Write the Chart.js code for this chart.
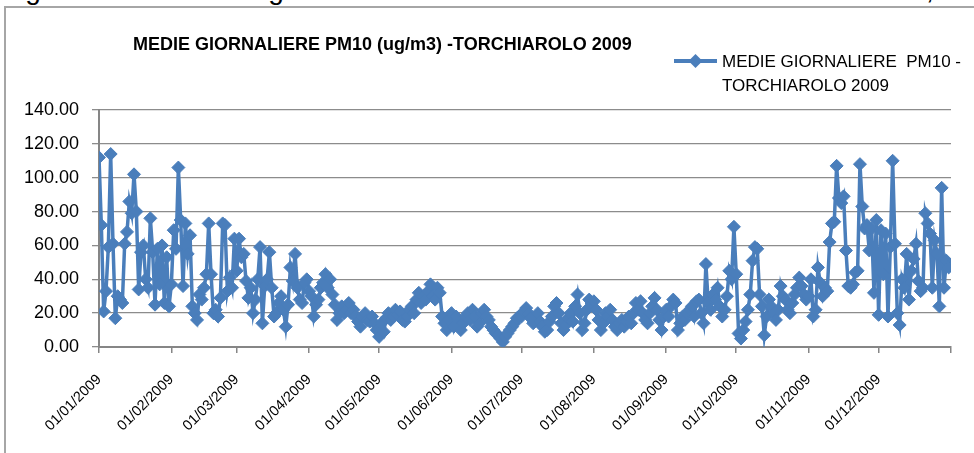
<!DOCTYPE html>
<html>
<head>
<meta charset="utf-8">
<script src="https://cdn.jsdelivr.net/npm/chart.js@4"></script>
<style>
html,body{margin:0;padding:0;background:#fff;}
#wrap{position:relative;width:974px;height:453px;overflow:hidden;background:#fff;}
#cap{position:absolute;left:2px;top:-26px;font:28px "Liberation Sans",Arial,sans-serif;white-space:nowrap;color:#000;}
#frame{position:absolute;left:4px;top:6px;width:1000px;height:600px;border-left:2px solid #a6a6a6;border-top:2px solid #a6a6a6;pointer-events:none;}
#c{position:absolute;left:0;top:0;}
</style>
</head>
<body>
<div id="wrap">
  <div id="cap">Figura 1: andamento giornaliero delle concentrazioni di PM10 - Torchiarolo, anno 2009</div>
  <canvas id="c" width="974" height="453"></canvas>
  <div id="frame"></div>
</div>
<script>
// ---- DATA ----
const chartTitle = 'MEDIE GIORNALIERE PM10 (ug/m3) -TORCHIAROLO 2009';
const seriesLabel = ['MEDIE GIORNALIERE  PM10 -', 'TORCHIAROLO 2009'];
const monthTicks = ['01/01/2009','01/02/2009','01/03/2009','01/04/2009','01/05/2009','01/06/2009','01/07/2009','01/08/2009','01/09/2009','01/10/2009','01/11/2009','01/12/2009'];
const monthStartDays = [0,31,59,90,120,151,181,212,243,273,304,334,365];
const yTicks = [0,20,40,60,80,100,120,140];

const jan = [112,72,21,33,59,114,61,17,30,28,26,61,68,86,79,102,80,34,56,60,40,35,76,56,25,58,37,60,26,53,24];
const feb = [37,69,58,106,75,36,73,55,66,24,20,16,31,28,35,43,73,43,20,22,18,29,73,72,33,41,35,64];
const mar = [45,64,53,55,39,29,35,20,28,40,59,14,36,40,56,35,18,20,26,30,22,12,25,47,39,55,35,28,26,38,40];
const apr = [33,30,18,25,28,35,38,43,35,40,31,25,16,20,24,20,22,26,20,22,18,15,12,18,20,16,15,18,14,10];
const may = [6,14,9,17,20,16,18,22,19,21,16,15,18,22,24,20,28,32,26,30,28,33,37,30,28,35,32,18,14,10,16];
const jun = [20,12,18,16,10,14,18,20,16,22,18,12,14,20,22,18,16,12,10,8,7,5,3,6,8,10,12,14,17,18];
const jul = [18,21,23,20,17,14,16,20,15,12,9,10,15,18,24,26,20,14,10,13,17,20,15,24,31,20,10,14,22,28,26];
const aug = [27,22,16,10,14,20,18,22,16,12,10,14,16,12,15,18,14,20,26,22,27,20,16,14,20,24,29,22,16,10,18];
const sep = [22,18,24,28,26,10,14,18,16,20,22,24,18,27,28,20,14,49,26,22,31,28,35,24,18,22,30,45,40,71];
const oct = [43,8,5,10,15,22,31,51,59,58,31,24,7,18,28,24,20,16,22,36,30,28,22,20,26,31,35,41,36,31,28];
const nov = [30,40,18,22,47,38,30,35,33,62,73,74,107,88,85,89,57,36,35,37,44,45,108,83,70,72,57,70,32,75];
const dec = [19,69,43,67,18,59,110,61,20,13,40,35,55,28,45,52,61,39,33,35,79,73,67,35,63,55,24,94,35,51,47];

// ---- BUILD ----
const BLUE = '#4a7ebb';
const FONT = '"Liberation Sans", Arial, sans-serif';
const months = [jan,feb,mar,apr,may,jun,jul,aug,sep,oct,nov,dec];
const points = [];
let dayIdx = 0;
months.forEach(m => m.forEach(v => { points.push({x: dayIdx, y: v}); dayIdx++; }));

// chart title and legend (line with diamond marker, two-line label)
const headerPlugin = {
  id: 'pmHeader',
  afterDraw(chart){
    const ctx = chart.ctx;
    ctx.save();
    ctx.fillStyle = '#000';
    ctx.textBaseline = 'middle';
    ctx.textAlign = 'left';
    ctx.font = 'bold 18px ' + FONT;
    ctx.fillText(chartTitle, 133, 45);

    const ly = 61;
    ctx.strokeStyle = BLUE;
    ctx.lineWidth = 4;
    ctx.beginPath(); ctx.moveTo(674, ly); ctx.lineTo(717, ly); ctx.stroke();
    ctx.fillStyle = BLUE;
    ctx.beginPath();
    ctx.moveTo(695.5, ly - 7); ctx.lineTo(702.5, ly); ctx.lineTo(695.5, ly + 7); ctx.lineTo(688.5, ly);
    ctx.closePath(); ctx.fill();

    ctx.fillStyle = '#000';
    ctx.font = '17px ' + FONT;
    ctx.fillText(seriesLabel[0], 722, 62);
    ctx.fillText(seriesLabel[1], 722, 86.5);
    ctx.restore();
  }
};

new Chart(document.getElementById('c'), {
  type: 'line',
  data: {
    datasets: [{
      label: seriesLabel.join(' '),
      data: points,
      borderColor: BLUE,
      backgroundColor: BLUE,
      borderWidth: 3.5,
      pointStyle: 'rectRot',
      pointRadius: 6.5,
      pointHoverRadius: 6.5,
      pointBorderWidth: 1,
      pointBackgroundColor: BLUE,
      pointBorderColor: BLUE,
      tension: 0,
      fill: false
    }]
  },
  options: {
    responsive: false,
    animation: false,
    devicePixelRatio: 1,
    layout: { padding: { top: 110, right: 23, left: 0, bottom: 0 } },
    plugins: {
      legend: { display: false },
      tooltip: { enabled: false }
    },
    scales: {
      x: {
        type: 'linear',
        min: 0,
        max: 365,
        afterBuildTicks(s){ s.ticks = monthStartDays.map(v => ({ value: v })); },
        afterFit(s){ s.height = 106; s.paddingRight = 0; s.paddingLeft = 0; },
        ticks: {
          autoSkip: false,
          maxRotation: 45,
          minRotation: 45,
          padding: 18,
          color: '#000',
          font: { family: FONT, size: 14.5 },
          callback(v){ const i = monthStartDays.indexOf(v); return (i >= 0 && i < monthTicks.length) ? monthTicks[i] : ''; }
        },
        grid: { drawOnChartArea: false, drawTicks: true, tickLength: 6, color: '#868686', lineWidth: 1.5 },
        border: { color: '#868686', width: 2 }
      },
      y: {
        min: 0,
        max: 140,
        afterBuildTicks(s){ s.ticks = yTicks.map(v => ({ value: v })); },
        afterFit(s){ s.width = 99; },
        ticks: { padding: 13, color: '#000', font: { family: FONT, size: 18 }, callback(v){ return Number(v).toFixed(2); } },
        grid: { color: '#8c8c8c', lineWidth: 1.3, tickLength: 7 },
        border: { color: '#868686', width: 2 }
      }
    }
  },
  plugins: [headerPlugin]
});
</script>
</body>
</html>
